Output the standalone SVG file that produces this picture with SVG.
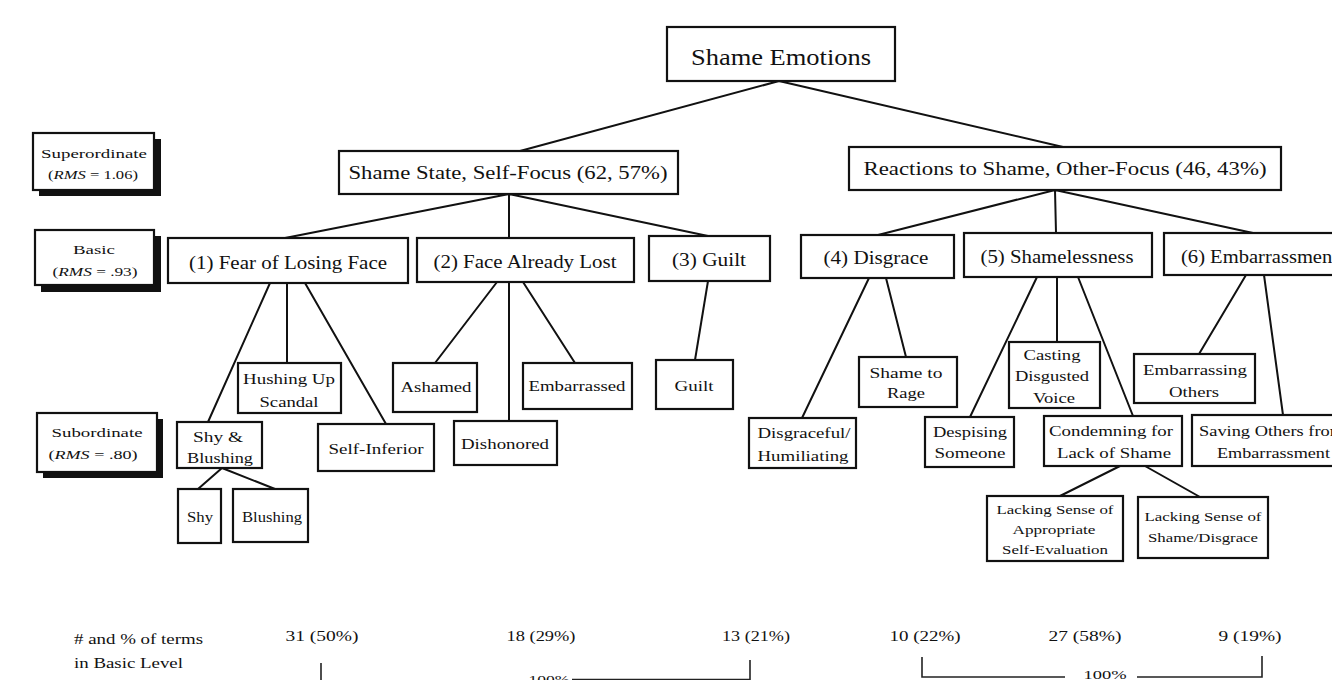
<svg xmlns="http://www.w3.org/2000/svg" width="1332" height="680" viewBox="0 0 1332 680">
<style>
.box{fill:#fff;stroke:#111;stroke-width:2.2}
.shadow{fill:#111}
.t{font-family:"Liberation Serif","Times New Roman",serif;fill:#111;text-anchor:middle}
.s{text-anchor:start}
.f22{font-size:24px}.f18{font-size:19.5px}.f17{font-size:18.5px}.f14{font-size:15.5px}.f13{font-size:14px}.f12{font-size:13.5px}
.ln{stroke:#111;stroke-width:2;fill:none}
.br{stroke:#222;stroke-width:1.6;fill:none}
</style>
<rect width="1332" height="680" fill="#fff"/>

<g id="connectors">
<path class="ln" d="M779,81 L520,151 M779,81 L1063,147"/>
<path class="ln" d="M509,194 L285,238 M509,194 L509,238 M509,194 L708,236"/>
<path class="ln" d="M1055,190 L878,235 M1055,190 L1056,233 M1055,190 L1253,233"/>
<path class="ln" d="M270,283 L208,422 M287,283 L287,363 M305,283 L386,424"/>
<path class="ln" d="M222,468 L198,489 M222,468 L275,489"/>
<path class="ln" d="M497,282 L435,363 M509,282 L509,421 M523,282 L575,363"/>
<path class="ln" d="M708,281 L695,360"/>
<path class="ln" d="M869,278 L802,418 M886,278 L906,357"/>
<path class="ln" d="M1037,277 L970,417 M1057,277 L1057,342 M1078,277 L1133,416"/>
<path class="ln" d="M1120,466 L1060,496 M1145,466 L1200,497"/>
<path class="ln" d="M1246,275 L1199,354 M1264,275 L1283,415"/>
</g>

<g id="legend-superordinate">
<rect class="shadow" x="39" y="139" width="122" height="57"/>
<rect class="box" x="33" y="133" width="121" height="57"/>
<text class="t f12" x="94" y="158" textLength="106" lengthAdjust="spacingAndGlyphs">Superordinate</text>
<text class="t f12" x="93" y="179" textLength="90" lengthAdjust="spacingAndGlyphs">(<tspan font-style="italic">RMS</tspan> = 1.06)</text>
</g>
<g id="legend-basic">
<rect class="shadow" x="41" y="236" width="120" height="56"/>
<rect class="box" x="35" y="230" width="119" height="55"/>
<text class="t f12" x="94" y="254" textLength="42" lengthAdjust="spacingAndGlyphs">Basic</text>
<text class="t f12" x="95" y="276" textLength="85" lengthAdjust="spacingAndGlyphs">(<tspan font-style="italic">RMS</tspan> = .93)</text>
</g>
<g id="legend-subordinate">
<rect class="shadow" x="43" y="419" width="120" height="59"/>
<rect class="box" x="37" y="413" width="120" height="59"/>
<text class="t f12" x="97" y="437" textLength="91" lengthAdjust="spacingAndGlyphs">Subordinate</text>
<text class="t f12" x="93" y="459" textLength="89" lengthAdjust="spacingAndGlyphs">(<tspan font-style="italic">RMS</tspan> = .80)</text>
</g>

<g id="root">
<rect class="box" x="667" y="27" width="228" height="54"/>
<text class="t f22" x="781" y="65" textLength="180" lengthAdjust="spacingAndGlyphs">Shame Emotions</text>
</g>
<g id="self-focus">
<rect class="box" x="339" y="151" width="339" height="43"/>
<text class="t f18" x="508" y="179" textLength="319" lengthAdjust="spacingAndGlyphs">Shame State, Self-Focus (62, 57%)</text>
</g>
<g id="other-focus">
<rect class="box" x="849" y="147" width="432" height="43"/>
<text class="t f18" x="1065" y="175" textLength="403" lengthAdjust="spacingAndGlyphs">Reactions to Shame, Other-Focus (46, 43%)</text>
</g>

<g id="n1">
<rect class="box" x="168" y="238" width="240" height="45"/>
<text class="t f17" x="288" y="269" textLength="198" lengthAdjust="spacingAndGlyphs">(1) Fear of Losing Face</text>
</g>
<g id="n2">
<rect class="box" x="417" y="238" width="217" height="44"/>
<text class="t f17" x="525" y="268" textLength="183" lengthAdjust="spacingAndGlyphs">(2) Face Already Lost</text>
</g>
<g id="n3">
<rect class="box" x="649" y="236" width="121" height="45"/>
<text class="t f17" x="709" y="266" textLength="74" lengthAdjust="spacingAndGlyphs">(3) Guilt</text>
</g>
<g id="n4">
<rect class="box" x="801" y="235" width="153" height="43"/>
<text class="t f17" x="876" y="264" textLength="105" lengthAdjust="spacingAndGlyphs">(4) Disgrace</text>
</g>
<g id="n5">
<rect class="box" x="964" y="233" width="188" height="44"/>
<text class="t f17" x="1057" y="263" textLength="153" lengthAdjust="spacingAndGlyphs">(5) Shamelessness</text>
</g>
<g id="n6">
<rect class="box" x="1164" y="233" width="200" height="42"/>
<text class="t s f17" x="1181" y="263" textLength="157" lengthAdjust="spacingAndGlyphs">(6) Embarrassment</text>
</g>

<g id="hushing">
<rect class="box" x="238" y="363" width="103" height="50"/>
<text class="t f14" x="289" y="384" textLength="92" lengthAdjust="spacingAndGlyphs">Hushing Up</text>
<text class="t f14" x="289" y="407" textLength="59" lengthAdjust="spacingAndGlyphs">Scandal</text>
</g>
<g id="shy-blushing">
<rect class="box" x="177" y="422" width="85" height="46"/>
<text class="t f14" x="218" y="442" textLength="50" lengthAdjust="spacingAndGlyphs">Shy &amp;</text>
<text class="t f14" x="220" y="463" textLength="66" lengthAdjust="spacingAndGlyphs">Blushing</text>
</g>
<g id="self-inferior">
<rect class="box" x="318" y="424" width="116" height="47"/>
<text class="t f14" x="376" y="454" textLength="95" lengthAdjust="spacingAndGlyphs">Self-Inferior</text>
</g>
<g id="shy">
<rect class="box" x="178" y="489" width="43" height="54"/>
<text class="t f14" x="200" y="522" textLength="26" lengthAdjust="spacingAndGlyphs">Shy</text>
</g>
<g id="blushing">
<rect class="box" x="233" y="489" width="75" height="53"/>
<text class="t f14" x="272" y="522" textLength="60" lengthAdjust="spacingAndGlyphs">Blushing</text>
</g>
<g id="ashamed">
<rect class="box" x="393" y="363" width="84" height="49"/>
<text class="t f14" x="436" y="392" textLength="71" lengthAdjust="spacingAndGlyphs">Ashamed</text>
</g>
<g id="dishonored">
<rect class="box" x="454" y="421" width="103" height="44"/>
<text class="t f14" x="505" y="449" textLength="88" lengthAdjust="spacingAndGlyphs">Dishonored</text>
</g>
<g id="embarrassed">
<rect class="box" x="523" y="363" width="109" height="46"/>
<text class="t f14" x="577" y="391" textLength="97" lengthAdjust="spacingAndGlyphs">Embarrassed</text>
</g>
<g id="guilt">
<rect class="box" x="656" y="360" width="77" height="49"/>
<text class="t f14" x="694" y="391" textLength="39" lengthAdjust="spacingAndGlyphs">Guilt</text>
</g>
<g id="disgraceful">
<rect class="box" x="749" y="418" width="107" height="50"/>
<text class="t f14" x="804" y="438" textLength="93" lengthAdjust="spacingAndGlyphs">Disgraceful/</text>
<text class="t f14" x="803" y="461" textLength="91" lengthAdjust="spacingAndGlyphs">Humiliating</text>
</g>
<g id="shame-rage">
<rect class="box" x="859" y="357" width="98" height="50"/>
<text class="t f14" x="906" y="378" textLength="73" lengthAdjust="spacingAndGlyphs">Shame to</text>
<text class="t f14" x="906" y="398" textLength="38" lengthAdjust="spacingAndGlyphs">Rage</text>
</g>
<g id="despising">
<rect class="box" x="925" y="417" width="89" height="50"/>
<text class="t f14" x="970" y="437" textLength="74" lengthAdjust="spacingAndGlyphs">Despising</text>
<text class="t f14" x="970" y="458" textLength="71" lengthAdjust="spacingAndGlyphs">Someone</text>
</g>
<g id="casting">
<rect class="box" x="1009" y="342" width="91" height="66"/>
<text class="t f14" x="1052" y="360" textLength="57" lengthAdjust="spacingAndGlyphs">Casting</text>
<text class="t f14" x="1052" y="381" textLength="74" lengthAdjust="spacingAndGlyphs">Disgusted</text>
<text class="t f14" x="1054" y="403" textLength="42" lengthAdjust="spacingAndGlyphs">Voice</text>
</g>
<g id="condemning">
<rect class="box" x="1044" y="416" width="138" height="50"/>
<text class="t f14" x="1111" y="436" textLength="124" lengthAdjust="spacingAndGlyphs">Condemning for</text>
<text class="t f14" x="1114" y="458" textLength="114" lengthAdjust="spacingAndGlyphs">Lack of Shame</text>
</g>
<g id="embarrassing-others">
<rect class="box" x="1134" y="354" width="121" height="49"/>
<text class="t f14" x="1195" y="375" textLength="104" lengthAdjust="spacingAndGlyphs">Embarrassing</text>
<text class="t f14" x="1194" y="397" textLength="50" lengthAdjust="spacingAndGlyphs">Others</text>
</g>
<g id="saving-others">
<rect class="box" x="1192" y="415" width="160" height="51"/>
<text class="t s f14" x="1199" y="436" textLength="145" lengthAdjust="spacingAndGlyphs">Saving Others from</text>
<text class="t s f14" x="1217" y="458" textLength="113" lengthAdjust="spacingAndGlyphs">Embarrassment</text>
</g>
<g id="lacking-appropriate">
<rect class="box" x="987" y="496" width="136" height="65"/>
<text class="t f12" x="1055" y="514" textLength="117" lengthAdjust="spacingAndGlyphs">Lacking Sense of</text>
<text class="t f12" x="1054" y="534" textLength="83" lengthAdjust="spacingAndGlyphs">Appropriate</text>
<text class="t f12" x="1055" y="554" textLength="106" lengthAdjust="spacingAndGlyphs">Self-Evaluation</text>
</g>
<g id="lacking-shame">
<rect class="box" x="1138" y="497" width="130" height="61"/>
<text class="t f12" x="1203" y="521" textLength="117" lengthAdjust="spacingAndGlyphs">Lacking Sense of</text>
<text class="t f12" x="1203" y="542" textLength="110" lengthAdjust="spacingAndGlyphs">Shame/Disgrace</text>
</g>

<g id="basic-level-counts">
<text class="t s f13" x="74" y="644" textLength="129" lengthAdjust="spacingAndGlyphs"># and % of terms</text>
<text class="t s f13" x="74" y="668" textLength="109" lengthAdjust="spacingAndGlyphs">in Basic Level</text>
<text class="t f13" x="322" y="641" textLength="73" lengthAdjust="spacingAndGlyphs">31 (50%)</text>
<text class="t f13" x="541" y="641" textLength="69" lengthAdjust="spacingAndGlyphs">18 (29%)</text>
<text class="t f13" x="756" y="641" textLength="68" lengthAdjust="spacingAndGlyphs">13 (21%)</text>
<text class="t f13" x="925" y="641" textLength="71" lengthAdjust="spacingAndGlyphs">10 (22%)</text>
<text class="t f13" x="1085" y="641" textLength="73" lengthAdjust="spacingAndGlyphs">27 (58%)</text>
<text class="t f13" x="1250" y="641" textLength="63" lengthAdjust="spacingAndGlyphs">9 (19%)</text>
<path class="br" d="M321,663 V683 H522 M572,679.5 H750 V660"/>
<text class="t f12" x="549" y="684" textLength="41" lengthAdjust="spacingAndGlyphs">100%</text>
<path class="br" d="M922,657 V677 H1065 M1137,677 H1262 V656"/>
<text class="t f12" x="1105" y="679" textLength="43" lengthAdjust="spacingAndGlyphs">100%</text>
</g>
</svg>
